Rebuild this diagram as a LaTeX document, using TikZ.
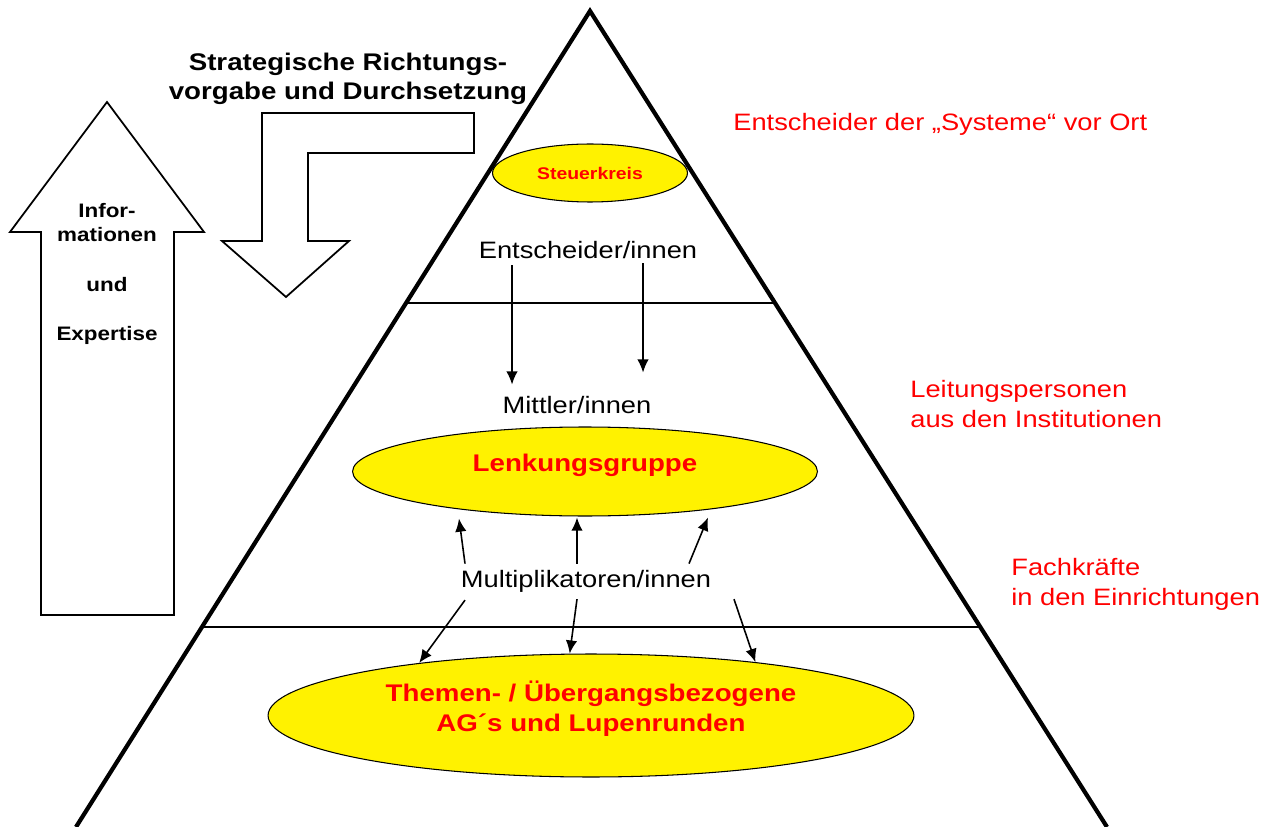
\documentclass[tikz,border=0pt]{standalone}
\usepackage{fontspec}
\setmainfont[FakeStretch=1.15]{Liberation Sans}
\usetikzlibrary{shapes.geometric,arrows.meta,calc}

\begin{document}
\begin{tikzpicture}[x=0.02cm,y=-0.02cm,
   group/.style={ellipse,draw,line width=0.6pt,fill=yellow,text=red},
   level/.style={font=\fontsize{13.5}{17}\selectfont},
   who/.style={font=\fontsize{13.5}{17}\selectfont,text=red,inner sep=0pt,align=left},
   bigarrow/.style={draw,line width=1pt},
   arr/.style={-{Latex[length=7.5pt,width=6.5pt]},line width=0.9pt}]
   \useasboundingbox (0,0) rectangle (1277,827);
   % pyramid
   \coordinate (top) at (590,11);
   \coordinate (bl) at (76,827);
   \coordinate (br) at (1107,827);
   \draw[line width=2.4pt] (bl) -- (top) -- (br);
   \draw[line width=0.75pt] ($(top)!0.358!(bl)$) -- ($(top)!0.358!(br)$);
   \draw[line width=0.75pt] ($(top)!0.755!(bl)$) -- ($(top)!0.755!(br)$);
   % groups
   \node[group,minimum width=3.9cm,minimum height=1.16cm,font=\bfseries\fontsize{9.6}{12}\selectfont] (steu) at (590,173) {Steuerkreis};
   \node[group,minimum width=9.3cm,minimum height=1.78cm,text height=0.3em,text depth=0.3em,font=\bfseries\fontsize{13.7}{17}\selectfont] (lenk) at (585,471.5) {Lenkungsgruppe};
   \node[group,minimum width=12.92cm,minimum height=2.46cm,align=center,font=\bfseries\fontsize{13.7}{17.6}\selectfont] (them) at (591,715.5) {Themen- / Übergangsbezogene\\AG´s und Lupenrunden\\[-7pt]};
   % levels
   \node[level,anchor=base] (ent) at (588,259) {Entscheider/innen};
   \node[level,anchor=base] (mit) at (577,413) {Mittler/innen};
   \node[level,anchor=base] (mul) at (586,587) {Multiplikatoren/innen};
   \node[who,anchor=base west] (sys) at (733,131) {Entscheider der „Systeme“ vor Ort};
   \node[who,anchor=north west] (lei) at (910,380) {Leitungspersonen\\aus den Institutionen};
   \node[who,anchor=north west] (fach) at (1011,558) {Fachkräfte\\in den Einrichtungen};
   % big arrows
   \draw[bigarrow] (107,102) -- (204,232) -- (174,232) -- (174,615) -- (41,615) -- (41,232) -- (10,232) -- cycle;
   \node[anchor=north,align=center,inner sep=0pt,font=\bfseries\fontsize{11.1}{13.6}\selectfont] (info) at (107,203) {Infor-\\mationen\\[14.7pt]und\\[14.7pt]Expertise};
   \draw[bigarrow] (262,113) -- (474,113) -- (474,153) -- (308,153) -- (308,241) -- (349,241) -- (286,297) -- (222,241) -- (262,241) -- cycle;
   \node[anchor=north,align=center,inner sep=0pt,font=\bfseries\fontsize{13.7}{16.4}\selectfont] (strat) at (348,53) {Strategische Richtungs-\\vorgabe und Durchsetzung};
   \path[arr]
        ([shift={(-76,0)}]ent.south) edge ([shift={(-65,-5)}]mit.north)
        ([shift={(55,-2)}]ent.south) edge ([shift={(66,-17)}]mit.north)
        ([shift={(-121,0)}]mul.north) edge ([shift={(-126,2)}]lenk.south)
        ([shift={(-9,0)}]mul.north) edge ([shift={(-8,1)}]lenk.south)
        ([shift={(103,0)}]mul.north) edge ([shift={(123,1)}]lenk.south)
        ([shift={(-121,2)}]mul.south) edge (them.163)
        ([shift={(-9,1)}]mul.south) edge (them.109)
        ([shift={(148,1)}]mul.south) edge (them.18)
        ;
\end{tikzpicture}
\end{document}
